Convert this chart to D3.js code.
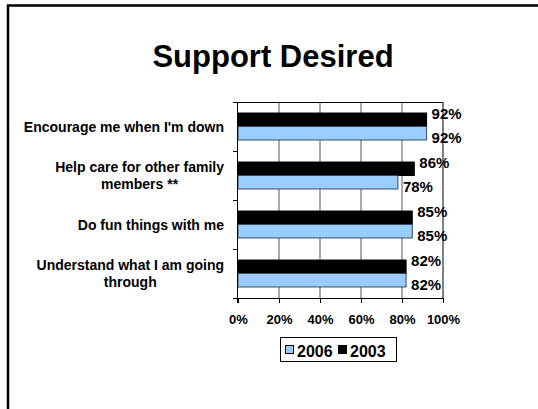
<!DOCTYPE html>
<html>
<head>
<meta charset="utf-8">
<script src="https://cdn.jsdelivr.net/npm/d3@7/dist/d3.min.js"></script>
<style>
  html, body { margin: 0; padding: 0; background: #fff; }
  svg { display: block; font-family: Arial, "Liberation Sans", sans-serif; }
</style>
</head>
<body>
<script>
// Survey items (top to bottom) and the share of respondents choosing each one
const categories = [
  ["Encourage me when I'm down"],
  ["Help care for other family", "members **"],
  ["Do fun things with me"],
  ["Understand what I am going", "through"]
];
const seriesNames = ["2003", "2006"];
const values2003 = [0.92, 0.86, 0.85, 0.82];
const values2006 = [0.92, 0.78, 0.85, 0.82];
const tickValues = [0, 0.2, 0.4, 0.6, 0.8, 1.0];
const legendOrder = ["2006", "2003"];
const colors = { "2003": "#000000", "2006": "#99CCFF" };

const W = 538, H = 409;
const svg = d3.select("body").append("svg").attr("width", W).attr("height", H);

// slide frame
svg.append("rect")
  .attr("x", 8).attr("y", 5.5).attr("width", W + 20).attr("height", H + 20)
  .attr("fill", "none").attr("stroke", "#000").attr("stroke-width", 2.5);

// title
svg.append("text")
  .attr("x", 273).attr("y", 67)
  .attr("text-anchor", "middle")
  .attr("font-size", 31).attr("font-weight", "bold")
  .text("Support Desired");

const plot = { left: 238, right: 443, top: 102, bottom: 298 };
const keys = categories.map((d, i) => i);

const x = d3.scaleLinear().domain([0, 1]).range([plot.left, plot.right]);
const y = d3.scaleBand().domain(keys).range([plot.top, plot.bottom])
  .paddingInner(0.45).paddingOuter(0.225);
const ySub = d3.scaleBand().domain(seriesNames).range([0, y.bandwidth()]);

const rows = keys.map(i => ({ i, "2003": values2003[i], "2006": values2006[i] }));

// vertical gridlines
svg.append("g").selectAll("line")
  .data(tickValues.slice(1))
  .join("line")
  .attr("x1", d => x(d)).attr("x2", d => x(d))
  .attr("y1", plot.top).attr("y2", plot.bottom)
  .attr("stroke", d => d === 1 ? "#000" : "#555").attr("stroke-width", 1);

// top edge of the plot area
svg.append("line")
  .attr("x1", plot.left).attr("x2", plot.right)
  .attr("y1", plot.top + 0.5).attr("y2", plot.top + 0.5)
  .attr("stroke", "#000");

// bars
const groups = svg.append("g").selectAll("g")
  .data(rows).join("g")
  .attr("transform", d => `translate(0,${y(d.i)})`);

groups.selectAll("rect")
  .data(d => seriesNames.map(s => ({ s, v: d[s] })))
  .join("rect")
  .attr("x", x(0))
  .attr("y", d => ySub(d.s))
  .attr("width", d => x(d.v) - x(0))
  .attr("height", ySub.bandwidth())
  .attr("fill", d => colors[d.s])
  .attr("stroke", d => d.s === "2006" ? "#3b4a5e" : "#000")
  .attr("stroke-width", 1);

// value labels
const labelShift = { "2003": -6, "2006": 4 };
groups.selectAll("text")
  .data(d => seriesNames.map(s => ({ s, v: d[s] })))
  .join("text")
  .attr("x", d => x(d.v) + 5)
  .attr("y", d => ySub(d.s) + ySub.bandwidth() / 2 + labelShift[d.s])
  .attr("dy", "0.36em")
  .attr("font-size", 15).attr("font-weight", "bold")
  .text(d => d3.format(".0%")(d.v));

// x axis
const xAxis = svg.append("g")
  .attr("transform", `translate(0,${plot.bottom})`)
  .call(d3.axisBottom(x).tickValues(tickValues).tickFormat(d3.format(".0%"))
    .tickSize(5).tickPadding(12));
xAxis.select(".domain").attr("stroke", "#000");
xAxis.selectAll(".tick line").attr("stroke", "#000");
xAxis.selectAll("text")
  .attr("font-size", 13).attr("font-weight", "bold")
  .attr("font-family", "Arial, 'Liberation Sans', sans-serif").attr("fill", "#000");

// y axis: line with ticks between categories
const yAxis = svg.append("g");
yAxis.append("line")
  .attr("x1", plot.left - 0.5).attr("x2", plot.left - 0.5)
  .attr("y1", plot.top).attr("y2", plot.bottom + 5)
  .attr("stroke", "#000");
const boundaries = [plot.top].concat(keys.map(i => y(i) - y.step() * y.paddingOuter() + y.step()));
yAxis.selectAll("line.tk")
  .data(boundaries).join("line").attr("class", "tk")
  .attr("x1", plot.left - 5).attr("x2", plot.left)
  .attr("y1", d => Math.round(d) + 0.5).attr("y2", d => Math.round(d) + 0.5)
  .attr("stroke", "#000");

// category labels: block right-aligned to the axis, lines centred within the block
const labelRight = 224;
const catLabels = svg.append("g").selectAll("text")
  .data(rows).join("text")
  .attr("text-anchor", "middle")
  .attr("font-size", 14).attr("font-weight", "bold");
catLabels.selectAll("tspan")
  .data(d => categories[d.i].map((t, k, arr) => ({ t, k, n: arr.length })))
  .join("tspan")
  .attr("x", 0)
  .attr("y", d => (d.k - (d.n - 1) / 2) * 17)
  .attr("dy", "0.36em")
  .text(d => d.t);
catLabels.each(function(d) {
  const maxW = d3.max(d3.select(this).selectAll("tspan").nodes(), n => n.getComputedTextLength());
  d3.select(this).attr("transform",
    `translate(${labelRight - maxW / 2},${y(d.i) + y.bandwidth() / 2})`);
});

// legend
const legend = svg.append("g").attr("transform", "translate(280,337)");
legend.append("rect")
  .attr("x", 0.5).attr("y", 0.5).attr("width", 116).attr("height", 24)
  .attr("fill", "#fff").attr("stroke", "#000");
const item = legend.selectAll("g.item")
  .data(legendOrder).join("g").attr("class", "item")
  .attr("transform", (d, i) => `translate(${5 + i * 53},0)`);
item.append("rect")
  .attr("x", 0.5).attr("y", 8.5).attr("width", 8).attr("height", 8)
  .attr("fill", d => colors[d]).attr("stroke", "#000");
item.append("text")
  .attr("x", 12).attr("y", 19.5)
  .attr("font-size", 16).attr("font-weight", "bold")
  .text(d => d);
</script>
</body>
</html>
